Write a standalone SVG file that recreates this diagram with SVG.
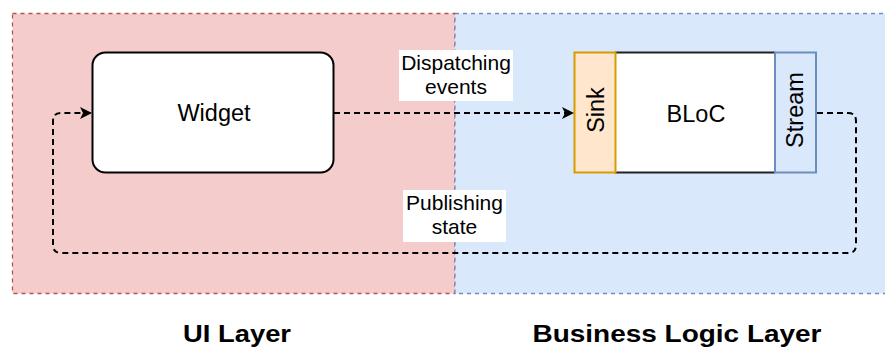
<svg xmlns="http://www.w3.org/2000/svg" width="885" height="348" viewBox="0 0 885 348">
  <defs>
    <marker id="arrow" viewBox="0 0 12 12" refX="11" refY="6" markerWidth="12" markerHeight="12" markerUnits="userSpaceOnUse" orient="auto">
      <path d="M0,0 L12,6 L0,12 L3,6 Z" fill="#000"/>
    </marker>
    <style>
      .label { font-family: "Liberation Sans", Arial, sans-serif; font-size: 21px; fill: #000; text-anchor: middle; }
      .big { font-size: 23.5px; }
      .title { font-family: "Liberation Sans", Arial, sans-serif; font-size: 23px; font-weight: bold; fill: #000; text-anchor: middle; }
      .flow { fill: none; stroke: #000; stroke-width: 2; stroke-dasharray: 6 4; }
      .layer { stroke-width: 1.3; stroke-dasharray: 4 4; }
    </style>
  </defs>

  <!-- Layers -->
  <g id="ui-layer">
    <rect class="layer" x="12.5" y="13.5" width="442.5" height="280" fill="#f4cccc" stroke="#b85450"/>
  </g>
  <g id="business-layer">
    <rect class="layer" x="455" y="13.5" width="440" height="280" fill="#dae8fc" stroke="#6c8ebf"/>
  </g>

  <!-- Widget -->
  <g id="widget">
    <rect x="92.5" y="52.5" width="241" height="120" rx="13" fill="#fff" stroke="#000" stroke-width="2"/>
    <text class="label big" x="214" y="121">Widget</text>
  </g>

  <!-- BLoC with sink and stream -->
  <g id="bloc">
    <rect x="615" y="52.5" width="160" height="120" fill="#fff"/>
    <line x1="615" y1="52.5" x2="775" y2="52.5" stroke="#222" stroke-width="2"/>
    <line x1="615" y1="172.5" x2="775" y2="172.5" stroke="#222" stroke-width="2"/>
    <text class="label big" x="696" y="121.5">BLoC</text>
  </g>
  <g id="sink">
    <rect x="574.5" y="52.5" width="41" height="120" fill="#ffe6cc" stroke="#d79b00" stroke-width="2"/>
    <text class="label big" transform="translate(603.5 110) rotate(-90)">Sink</text>
  </g>
  <g id="stream">
    <rect x="775" y="52.5" width="41" height="120" fill="#dae8fc" stroke="#6c8ebf" stroke-width="2"/>
    <text class="label big" transform="translate(803 110) rotate(-90)">Stream</text>
  </g>

  <!-- Connectors -->
  <g id="connectors">
    <path class="flow" d="M334 113 H573" marker-end="url(#arrow)"/>
    <path class="flow" d="M817 113 H848 Q856 113 856 121 V245 Q856 253 848 253 H61 Q53 253 53 245 V121 Q53 113 61 113 H91" marker-end="url(#arrow)"/>
    <g id="label-dispatch">
      <rect x="399" y="50" width="114" height="51" fill="#fff"/>
      <text class="label" x="456" y="70">Dispatching</text>
      <text class="label" x="456" y="94">events</text>
    </g>
    <g id="label-publish">
      <rect x="403" y="190" width="103" height="52" fill="#fff"/>
      <text class="label" x="454.5" y="210">Publishing</text>
      <text class="label" x="454.5" y="234">state</text>
    </g>
  </g>

  <!-- Layer captions -->
  <text class="title" x="237" y="342" textLength="108" lengthAdjust="spacingAndGlyphs">UI Layer</text>
  <text class="title" x="677" y="342" textLength="289" lengthAdjust="spacingAndGlyphs">Business Logic Layer</text>
</svg>
